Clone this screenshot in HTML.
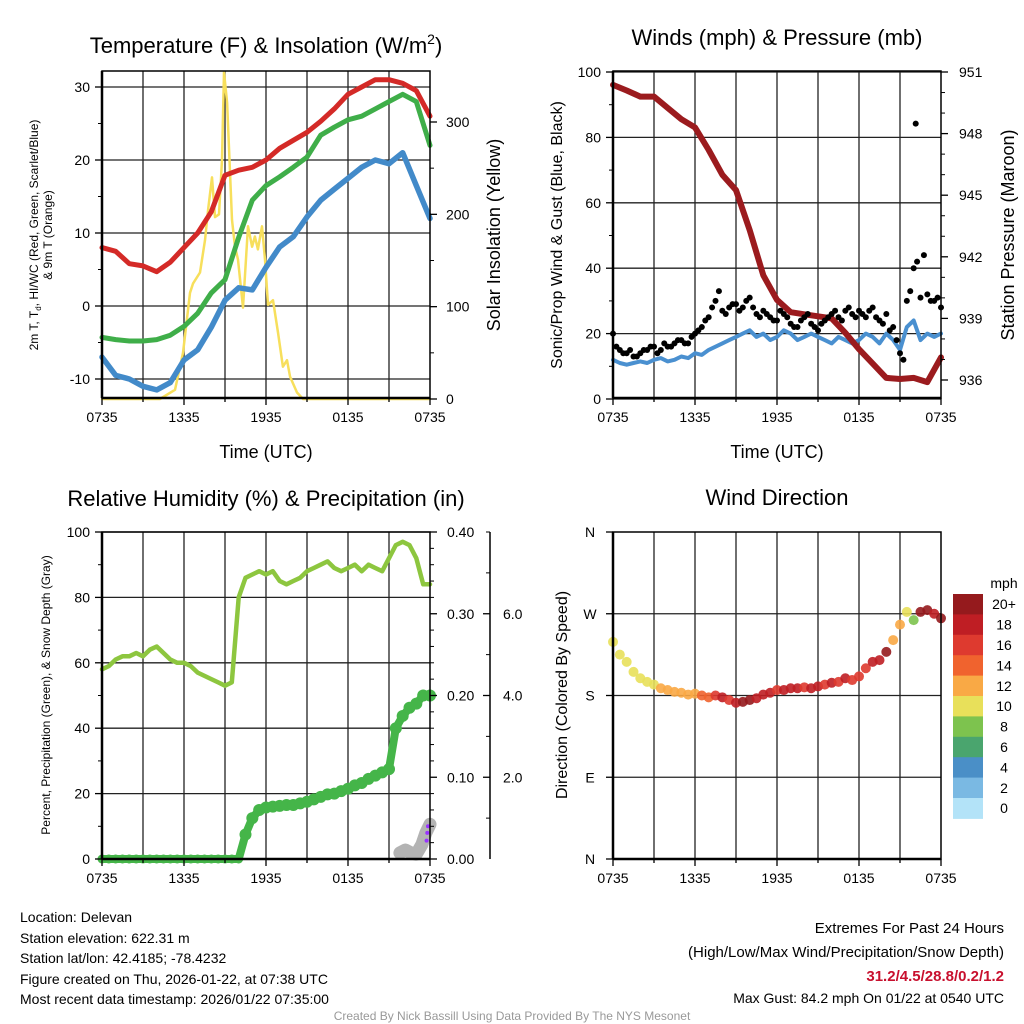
<!DOCTYPE html>
<html><head><meta charset="utf-8"><style>
html,body{margin:0;padding:0;background:#fff;}
svg{display:block;font-family:"Liberation Sans",sans-serif;}
</style></head><body>
<svg id="fig" width="1024" height="1024" viewBox="0 0 1024 1024" xmlns="http://www.w3.org/2000/svg">
<rect width="1024" height="1024" fill="#fff"/>
<text x="266" y="53" font-size="22" text-anchor="middle">Temperature (F) &amp; Insolation (W/m<tspan font-size="14" dy="-9">2</tspan><tspan dy="9">)</tspan></text>
<text x="777" y="45" font-size="22" text-anchor="middle">Winds (mph) &amp; Pressure (mb)</text>
<text x="266" y="506" font-size="22" text-anchor="middle">Relative Humidity (%) &amp; Precipitation (in)</text>
<text x="777" y="505" font-size="22" text-anchor="middle">Wind Direction</text>
<text x="266" y="458" font-size="18" text-anchor="middle">Time (UTC)</text>
<text x="777" y="458" font-size="18" text-anchor="middle">Time (UTC)</text>
<text transform="translate(38,235) rotate(-90)" font-size="12" text-anchor="middle">2m T, T<tspan font-size="8" dy="3">d</tspan><tspan dy="-3">, HI/WC (Red, Green, Scarlet/Blue)</tspan></text>
<text transform="translate(52,235) rotate(-90)" font-size="12" text-anchor="middle">&amp; 9m T (Orange)</text>
<text transform="translate(500,235) rotate(-90)" font-size="18" text-anchor="middle">Solar Insolation (Yellow)</text>
<text transform="translate(562,235) rotate(-90)" font-size="16" text-anchor="middle">Sonic/Prop Wind &amp; Gust (Blue, Black)</text>
<text transform="translate(1014,235) rotate(-90)" font-size="18" text-anchor="middle">Station Pressure (Maroon)</text>
<text transform="translate(50,695) rotate(-90)" font-size="12" text-anchor="middle">Percent, Precipitation (Green), &amp; Snow Depth (Gray)</text>
<text transform="translate(567,695) rotate(-90)" font-size="16" text-anchor="middle">Direction (Colored By Speed)</text>
<text x="1004" y="588" font-size="14" text-anchor="middle">mph</text>
<g font-size="14">
<text x="20" y="922">Location: Delevan</text>
<text x="20" y="943">Station elevation: 622.31 m</text>
<text x="20" y="963">Station lat/lon: 42.4185; -78.4232</text>
<text x="20" y="984">Figure created on Thu, 2026-01-22, at 07:38 UTC</text>
<text x="20" y="1004">Most recent data timestamp: 2026/01/22 07:35:00</text>
</g>
<g font-size="15" text-anchor="end">
<text x="1004" y="933">Extremes For Past 24 Hours</text>
<text x="1004" y="957">(High/Low/Max Wind/Precipitation/Snow Depth)</text>
<text x="1004" y="981" fill="#c8102e" font-weight="bold">31.2/4.5/28.8/0.2/1.2</text>
<text x="1004" y="1003" font-size="14">Max Gust: 84.2 mph On 01/22 at 0540 UTC</text>
</g>
<text x="512" y="1020" font-size="12" fill="#999" text-anchor="middle">Created By Nick Bassill Using Data Provided By The NYS Mesonet</text>
</svg>
<script>
// ---- data ----
const hourTimes = [0,1,2,3,4,5,6,7,8,9,10,11,12,13,14,15,16,17,18,19,20,21,22,23,24];
const halfTimes = [0,0.5,1,1.5,2,2.5,3,3.5,4,4.5,5,5.5,6,6.5,7,7.5,8,8.5,9,9.5,10,10.5,11,11.5,12,12.5,13,13.5,14,14.5,15,15.5,16,16.5,17,17.5,18,18.5,19,19.5,20,20.5,21,21.5,22,22.5,23,23.5,24];
const xTickLabels = ["0735","1335","1935","0135","0735"];
const tempValues = [8,7.5,5.8,5.5,4.7,6,8,10,12.9,17.9,18.6,19,20,21.6,22.7,23.8,25.3,27,29,30,31,31,30.5,29.5,26];
const dewValues = [-4.3,-4.6,-4.8,-4.8,-4.6,-4,-2.8,-1,1.8,3.6,9.4,14.5,16.5,17.7,19,20.4,23.4,24.5,25.5,26,27,28,29,28,22];
const chillValues = [-7,-9.5,-10,-11,-11.5,-10.5,-7.4,-6,-2.9,0.8,2.5,2.2,5.3,8.1,9.5,12.2,14.5,16,17.5,19,20,19.5,21,16.5,12];
const solarTimes = [0,4.24,5.34,5.93,6.44,6.66,7.17,7.54,7.76,8.05,8.27,8.56,8.78,8.93,9.15,9.51,9.73,9.95,10.32,10.68,10.98,11.19,11.41,11.71,11.93,12.15,12.51,12.88,13.24,13.54,13.76,14.27,14.71,24];
const solarValues = [0,0,10,50,115,125,137,172,205,240,197,200,259,354,321,194,165,151,99,187,165,176,162,187,151,102,107,72,35,42,24,7,0,0];
const tempTicks = [-10,0,10,20,30];
const solarTicks = [0,100,200,300];
const pressureValues = [950.37,950.1,949.8,949.8,949.25,948.7,948.3,947.2,946,945.25,943.3,941.1,939.9,939.3,939.2,939.1,939.0,938.3,937.5,936.8,936.1,936.05,936.1,935.9,937.1];
const windValues = [12,11,10.5,11,11.5,11,12,12.5,11.5,12,13,12.5,14,13.5,15,16,17,18,19,20,21,19,20,18,19,21,20,18,19,20,19,18,17,19,18,17,18,20,19,17,20,18,15,22,24,18,20,19,20];
const gustValues = [20,15,14,13,14,15,16,15,16,17,18,17,20,22,25,30,27,28,29,28,31,26,27,25,24,26,23,22,25,23,21,24,26,25,27,26,27,25,28,24,26,22,14,30,40,31,32,30,28];
const gustValues2 = [16,14,15,13,15,16,14,17,16,18,17,19,21,24,28,33,26,29,27,30,28,25,26,24,27,25,22,24,26,22,23,25,27,24,28,25,26,27,25,23,21,18,12,33,42,44,30,31];
const gustOutlierTime = [22.15];
const gustOutlierValue = [84.2];
const windTicks = [0,20,40,60,80,100];
const pressureTicks = [936,939,942,945,948,951];
const rhValues = [58,59,61,62,62,63,62,64,65,63,61,60,60,59,57,56,55,54,53,54,80,86,87,88,87,88,85,84,85,86,88,89,90,91,89,88,89,90,88,90,89,88,92,96,97,96,92,84,84];
const precipValues = [0,0,0,0,0,0,0,0,0,0,0,0,0,0,0,0,0,0,0,0,0,0.03,0.05,0.06,0.063,0.064,0.065,0.066,0.066,0.068,0.07,0.073,0.076,0.079,0.08,0.083,0.086,0.09,0.093,0.098,0.102,0.106,0.11,0.16,0.175,0.185,0.19,0.2,0.2];
const snowTimes = [21.8,22.2,22.6,23.0,23.4,23.7,24];
const snowValues = [0.15,0.22,0.15,0.12,0.35,0.64,0.85];
const traceTimes = [23.75,23.8,23.85];
const traceValues = [0.45,0.64,0.8];
const rhTicks = [0,20,40,60,80,100];
const precipTickLabels = ["0.00","0.10","0.20","0.30","0.40"];
const precipTicks = [0,0.1,0.2,0.3,0.4];
const snowTicks = [2,4,6];
const dirValues = [239,225,217,206,199,195,192,188,186,184,183,181,182,180,178,180,178,175,172,173,175,177,181,183,186,186,188,188,189,188,190,192,194,195,199,197,201,210,217,219,228,241,258,272,263,272,274,270,265];
const dirSpeeds = [11,10.5,10,10,11,10.5,11,12,12,13,13,12,13,14,15,16,18,17,19,21,20,19,18,19,17,18,19,18,17,19,18,17,19,16,18,17,17,16,18,19,20,13,12,11,9,20,22,19,20];
const dirTicks = [0,90,180,270,360];
const dirTickLabels = ["N","E","S","W","N"];
const cbLabels = ["20+","18","16","14","12","10","8","6","4","2","0"];
const cbColors = ["#951a1d","#bf1e24","#de3a2f","#f0632e","#f9a945","#e8e05a","#7dc34e","#4aa56e","#4a8fc7","#7ab9e3","#b3e3f8"];

// ---- helpers ----
const NS = "http://www.w3.org/2000/svg";
const svg = document.getElementById("fig");
function mk(tag, attrs, name, parent) {
  const el = document.createElementNS(NS, tag);
  for (const k in attrs) el.setAttribute(k, attrs[k]);
  
  
  (parent || svg).appendChild(el);
  return el;
}
function txt(x, y, s, size, anchor, name) {
  const t = mk("text", {x: x, y: y, "font-size": size, "text-anchor": anchor}, name);
  t.textContent = s;
  return t;
}
const W = 328, H = 327;
function xS(x0) { return t => x0 + t / 24 * W; }
function lin(v0, p0, v1, p1) { return v => p0 + (v - v0) * (p1 - p0) / (v1 - v0); }
function line(times, vals, xs, ys, color, w, name) {
  const pts = times.map((t, i) => xs(t).toFixed(1) + "," + ys(vals[i]).toFixed(1)).join(" ");
  return mk("polyline", {points: pts, fill: "none", stroke: color, "stroke-width": w, "stroke-linejoin": "round", "stroke-linecap": "round"}, name);
}
function frame(x0, y0, name, hGrid) {
  for (let k = 1; k < 8; k++) {
    const x = x0 + k * W / 8;
    mk("line", {x1: x, x2: x, y1: y0, y2: y0 + H, stroke: "#222", "stroke-width": 1.3}, name + "-vgrid");
  }
  hGrid.forEach(y => mk("line", {x1: x0, x2: x0 + W, y1: y, y2: y, stroke: "#222", "stroke-width": 1.3}, name + "-hgrid"));
}
function box(x0, y0, name) {
  mk("rect", {x: x0, y: y0, width: W, height: H, fill: "none", stroke: "#000", "stroke-width": 1.5}, name + "-frame");
  mk("line", {x1: x0, x2: x0, y1: y0, y2: y0 + H, stroke: "#000", "stroke-width": 2.5}, name + "-left-axis");
  mk("line", {x1: x0, x2: x0 + W, y1: y0 + H, y2: y0 + H, stroke: "#000", "stroke-width": 2.5}, name + "-bottom-axis");
  for (let k = 0; k <= 8; k++) {
    const x = x0 + k * W / 8;
    mk("line", {x1: x, x2: x, y1: y0 + H, y2: y0 + H + (k % 2 ? 4 : 7), stroke: "#000", "stroke-width": 1.3}, name + "-x-tick");
  }
  xTickLabels.forEach((s, i) => txt(x0 + i * W / 4, y0 + H + 24, s, 14, "middle", name + "-x-tick-label"));
}
function yTicks(xa, dir, ticks, labels, ys, name, labelX, anchor, minor) {
  ticks.forEach((v, i) => {
    const y = ys(v);
    mk("line", {x1: xa, x2: xa + dir * 7, y1: y, y2: y, stroke: "#000", "stroke-width": 1.3}, name + "-tick");
    const lab = labels ? labels[i] : String(v);
    txt(labelX, y + 5, lab, 14, anchor, name + "-tick-label");
  });
  (minor || []).forEach(v => {
    const y = ys(v);
    mk("line", {x1: xa, x2: xa + dir * 4, y1: y, y2: y, stroke: "#000", "stroke-width": 1}, name + "-minor-tick");
  });
}

// ---- Panel 1: temperature ----
{
  const x0 = 102, y0 = 71, xs = xS(x0);
  const yT = lin(0, 306, 30, 87), yW = lin(0, 399, 300, 122);
  frame(x0, y0, "temp", tempTicks.map(yT));
  line(solarTimes, solarValues, xs, yW, "#f7df5c", 2.5, "solar-line");
  line(hourTimes, tempValues, xs, yT, "#d42a27", 5, "temp-line");
  line(hourTimes, dewValues, xs, yT, "#3fae49", 5, "dewpoint-line");
  line(hourTimes, chillValues, xs, yT, "#428ac9", 5.5, "windchill-line");
  box(x0, y0, "temp");
  yTicks(x0, -1, tempTicks, null, yT, "temp-y", 90, "end", [-5, 5, 15, 25]);
  yTicks(x0 + W, 1, solarTicks, null, yW, "solar-y", 446, "start", [50, 150, 250]);
}
// ---- Panel 2: winds ----
{
  const x0 = 613, y0 = 71, xs = xS(x0);
  const yS = lin(0, 399, 100, 72), yP = lin(951, 72, 936, 380);
  frame(x0, y0, "winds", windTicks.map(yS));
  line(halfTimes, windValues, xs, yS, "#4a90d0", 4, "wind-speed-line");
  line(hourTimes, pressureValues, xs, yP, "#9b1b1e", 6, "pressure-line");
  gustValues.forEach((v, i) => {
    mk("circle", {cx: xs(halfTimes[i]), cy: yS(v), r: 3, fill: "#000"}, "gust-dot");
  });
  gustValues2.forEach((v, i) => {
    mk("circle", {cx: xs(halfTimes[i] + 0.25), cy: yS(v), r: 3, fill: "#000"}, "gust-dot");
  });
  gustOutlierValue.forEach((v, i) => {
    mk("circle", {cx: xs(gustOutlierTime[i]), cy: yS(v), r: 3, fill: "#000"}, "gust-outlier-dot");
  });
  box(x0, y0, "winds");
  yTicks(x0, -1, windTicks, null, yS, "wind-y", 601, "end", [10, 30, 50, 70, 90]);
  yTicks(x0 + W, 1, pressureTicks, null, yP, "pressure-y", 959, "start", [937, 938, 940, 941, 943, 944, 946, 947, 949, 950]);
}
// ---- Panel 3: RH & precip ----
{
  const x0 = 102, y0 = 532, xs = xS(x0);
  const yR = lin(0, 859, 100, 532), yPr = lin(0, 859, 0.4, 532), ySn = lin(0, 859, 8, 532);
  frame(x0, y0, "rh", rhTicks.map(yR));
  line(halfTimes, rhValues, xs, yR, "#8dc63f", 4.5, "rh-line");
  line(halfTimes, precipValues, xs, yPr, "#45b549", 8, "precip-line");
  precipValues.forEach((v, i) => {
    mk("circle", {cx: xs(halfTimes[i]), cy: yPr(v), r: v > 0 ? 6 : 4.5, fill: "#45b549"}, "precip-dot");
  });
  line(snowTimes, snowValues, xs, ySn, "#b3b3b3", 13, "snow-depth-line");
  traceValues.forEach((v, i) => {
    mk("circle", {cx: xs(traceTimes[i]), cy: ySn(v), r: 2, fill: "#9933ff"}, "trace-dot");
  });
  box(x0, y0, "rh");
  yTicks(x0, -1, rhTicks, null, yR, "rh-y", 90, "end", [10, 30, 50, 70, 90]);
  yTicks(x0 + W, 1, precipTicks, precipTickLabels, yPr, "precip-y", 447, "start", [0.02,0.04,0.06,0.08,0.12,0.14,0.16,0.18,0.22,0.24,0.26,0.28,0.32,0.34,0.36,0.38]);
  mk("line", {x1: 490, x2: 490, y1: 532, y2: 859, stroke: "#000", "stroke-width": 1.5}, "snow-axis");
  yTicks(490, -1, snowTicks, snowTicks.map(v => v.toFixed(1)), ySn, "snow-y", 503, "start", [1, 3, 5, 7, 8]);
}
// ---- Panel 4: wind direction ----
{
  const x0 = 613, y0 = 532, xs = xS(x0);
  const yD = lin(0, 859, 360, 532);
  frame(x0, y0, "wdir", [90, 180, 270].map(yD));
  function colorFor(s) { const k = Math.min(10, Math.max(0, Math.floor(s / 2))); return cbColors[10 - k]; }
  dirValues.forEach((d, i) => {
    mk("circle", {cx: xs(halfTimes[i]), cy: yD(d), r: 5, fill: colorFor(dirSpeeds[i]), "fill-opacity": 0.9}, "direction-dot");
  });
  box(x0, y0, "wdir");
  dirTicks.forEach((v, i) => {
    const y = yD(v);
    mk("line", {x1: x0, x2: x0 - 7, y1: y, y2: y, stroke: "#000", "stroke-width": 1.3}, "wdir-y-tick");
    txt(590, y + 5, dirTickLabels[i], 14, "middle", "wdir-y-tick-label");
  });
  const cy0 = 594, ch = 20.4;
  cbColors.forEach((c, i) => {
    mk("rect", {x: 953, y: cy0 + i * ch, width: 30, height: ch + 0.5, fill: c}, "colorbar-box");
    txt(1004, cy0 + i * ch + ch / 2 + 5, cbLabels[i], 14, "middle", "colorbar-label");
  });
}
</script>
</body></html>
